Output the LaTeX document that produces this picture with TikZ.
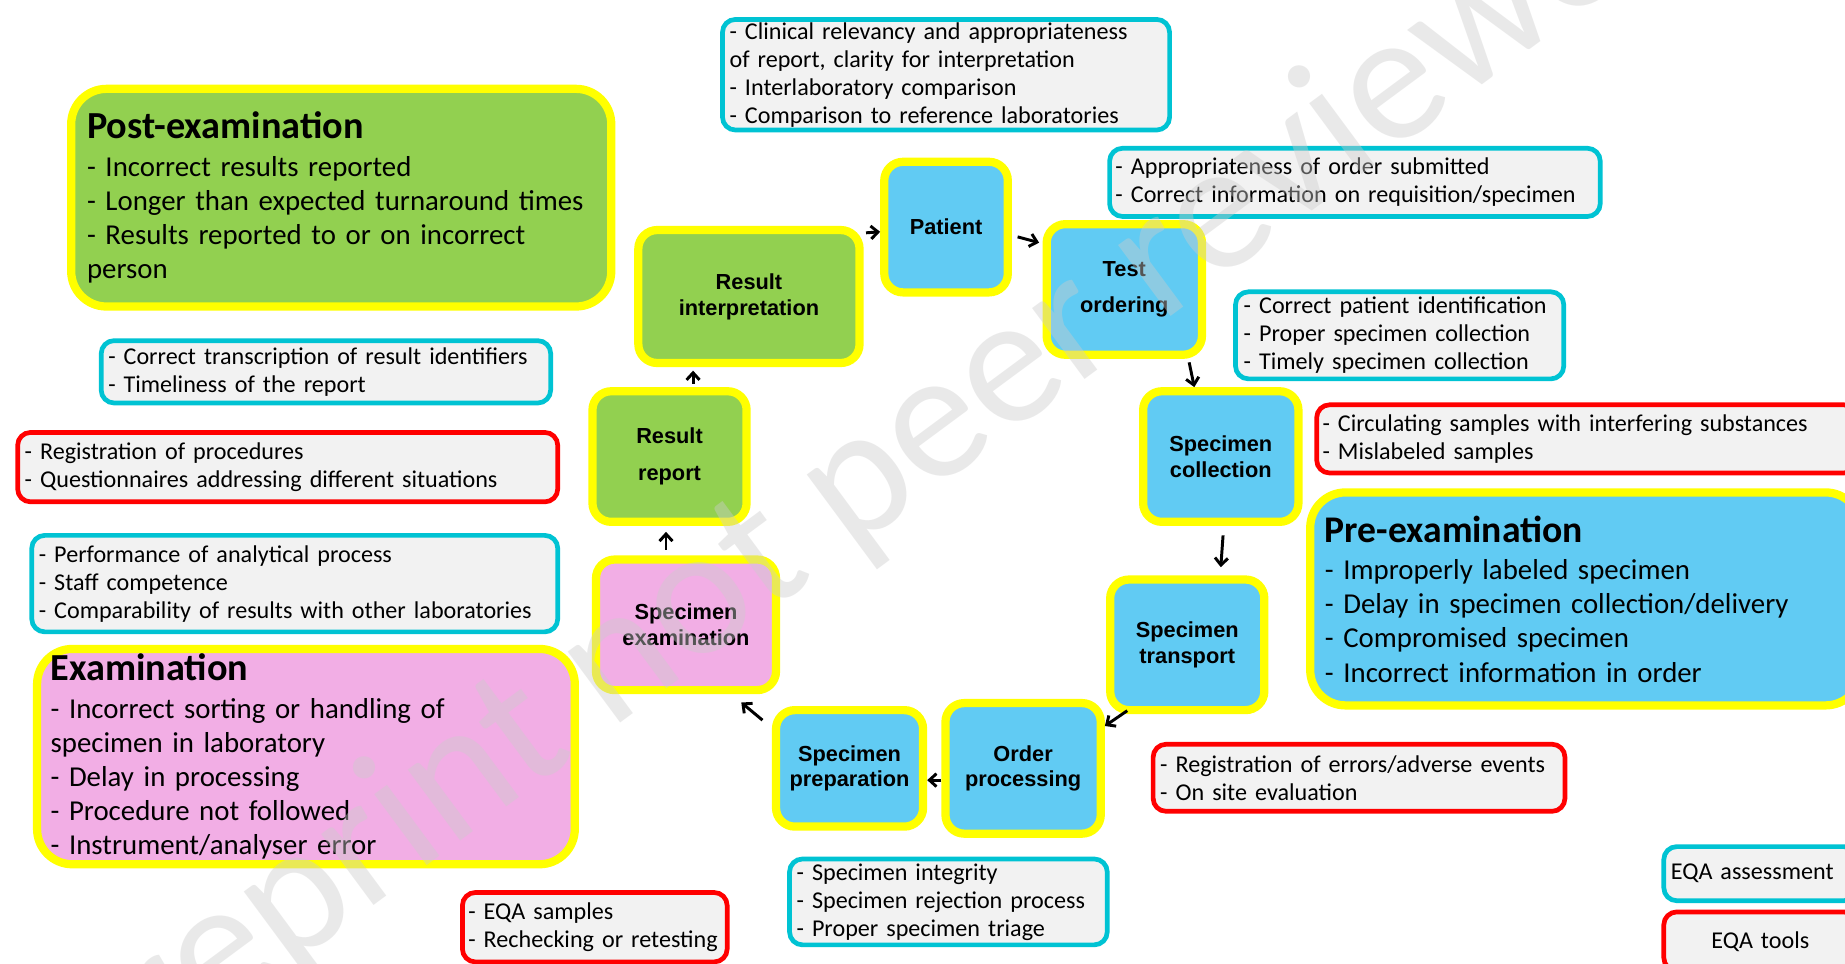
\documentclass[tikz,border=0pt]{standalone}
\usepackage{fontspec}
\setmainfont{Carlito}
\newfontfamily\procfamily{Liberation Sans}
\usetikzlibrary{arrows.meta,calc}
\definecolor{ylw}{HTML}{FFFF00}
\definecolor{grn}{HTML}{92D050}
\definecolor{blu}{HTML}{61CBF3}
\definecolor{pnk}{HTML}{F2AEE5}
\definecolor{cyn}{HTML}{00C3D3}
\definecolor{rd}{HTML}{FF0000}
\definecolor{lgr}{HTML}{F2F2F2}
\begin{document}
\begin{tikzpicture}[x=1pt,y=-1pt,
  proc/.style={draw=ylw,line width=7pt,rounded corners=16pt,align=center,inner sep=0pt,
    font=\procfamily\bfseries\fontsize{18.5}{22}\selectfont},
  info/.style={fill=lgr,line width=4pt,rounded corners=11pt,align=left,inner ysep=0pt,
    font=\fontsize{20.5}{23.8}\selectfont},
  cbox/.style={info,draw=cyn},
  rbox/.style={info,draw=rd},
  big/.style={draw=ylw,line width=7pt,rounded corners=30pt,align=left,inner ysep=0pt,
    font=\fontsize{24.5}{29}\selectfont},
  arr/.style={-{Straight Barb[length=6pt,width=11pt]},line width=2.5pt},
]
\useasboundingbox (0,0) rectangle (1568,819);
\fill[white] (0,0) rectangle (1568,819);

% big category boxes
\node[big,fill=grn,minimum width=459,minimum height=185,inner xsep=13.5pt,text width=432pt] (bpost) at (290,168)
 {{\bfseries\fontsize{32.5}{34}\selectfont Post-examination}\\[3pt]
  - Incorrect results reported\\
  - Longer than expected turnaround times\\
  - Results reported to or on incorrect\\
  person};
\node[big,fill=blu,minimum width=468,minimum height=181,inner xsep=12.5pt,text width=443pt] (bpre) at (1347.5,509)
 {{\bfseries\fontsize{32}{34}\selectfont Pre-examination}\\[3pt]
  - Improperly labeled specimen\\
  - Delay in specimen collection/delivery\\
  - Compromised specimen\\
  - Incorrect information in order};
\node[big,fill=pnk,minimum width=457,minimum height=183,inner xsep=11.5pt,text width=434pt] (bexam) at (260,643)
 {{\bfseries\fontsize{32.5}{34}\selectfont Examination}\\[3pt]
  - Incorrect sorting or handling of\\
  specimen in laboratory\\
  - Delay in processing\\
  - Procedure not followed\\
  - Instrument/analyser error};

% info boxes
\node[cbox,minimum height=94,inner xsep=6pt,text width=368pt] (i1) at (804,63.5)
 {- Clinical relevancy and appropriateness\\ of report, clarity for interpretation\\ - Interlaboratory comparison\\ - Comparison to reference laboratories};
\node[cbox,minimum height=58,inner xsep=5pt,text width=407pt] (i2) at (1151.5,155)
 {- Appropriateness of order submitted\\ - Correct information on requisition/specimen};
\node[cbox,minimum height=74,inner xsep=7pt,text width=265pt] (i3) at (1189.5,285)
 {- Correct patient identification\\ - Proper specimen collection\\ - Timely specimen collection};
\node[rbox,minimum height=58,inner xsep=5pt,text width=449pt] (i4) at (1348.5,373)
 {- Circulating samples with interfering substances\\ - Mislabeled samples};
\node[rbox,minimum height=57,inner xsep=6pt,text width=338pt] (i5) at (1155,661)
 {- Registration of errors/adverse events\\ - On site evaluation};
\node[cbox,minimum height=46,inner xsep=6pt,text width=152pt] (i6) at (1496,742.5)
 {EQA assessment};
\node[rbox,minimum height=50,inner xsep=6pt,text width=152pt,align=center] (i7) at (1496,800)
 {EQA tools};
\node[cbox,minimum height=73,inner xsep=6pt,text width=258pt] (i8) at (806,766.5)
 {- Specimen integrity\\ - Specimen rejection process\\ - Proper specimen triage};
\node[rbox,minimum height=59,inner xsep=5pt,text width=215pt] (i9) at (505.5,788)
 {- EQA samples\\ - Rechecking or retesting};
\node[cbox,minimum height=82,inner xsep=6pt,text width=435pt] (i10) at (250.5,496)
 {- Performance of analytical process\\ - Staff competence\\ - Comparability of results with other laboratories};
\node[rbox,minimum height=59,inner xsep=6pt,text width=447pt] (i11) at (244.5,397)
 {- Registration of procedures\\ - Questionnaires addressing different situations};
\node[cbox,minimum height=53,inner xsep=6pt,text width=370pt] (i12) at (277,316)
 {- Correct transcription of result identifiers\\ - Timeliness of the report};

% process nodes
\node[proc,fill=blu,minimum width=105,minimum height=111] (pat) at (804,193) {Patient};
\node[proc,fill=blu,minimum width=132,minimum height=111] (test) at (955.5,246) {Test\\[8pt]ordering};
\node[proc,fill=blu,minimum width=132,minimum height=111] (coll) at (1037.5,388) {Specimen\\collection};
\node[proc,fill=blu,minimum width=131,minimum height=111] (trans) at (1009,548) {Specimen\\transport};
\node[proc,fill=blu,minimum width=132,minimum height=111] (order) at (869.5,653) {Order\\processing};
\node[proc,fill=blu,minimum width=125,minimum height=99] (prep) at (722,653) {Specimen\\preparation};
\node[proc,fill=pnk,minimum width=153,minimum height=111] (exam) at (583,531) {Specimen\\examination};
\node[proc,fill=grn,minimum width=131,minimum height=111] (report) at (569,388) {Result\\[9pt]report};
\node[proc,fill=grn,minimum width=188,minimum height=113] (interp) at (636.5,252) {Result\\interpretation};

% connectors
\draw[arr,shorten <=2pt] (interp.east |- 0,198) -- (pat.west |- 0,197);
\draw[arr,shorten <=5pt,shorten >=3pt] (pat.east |- 0,200) -- (test.west |- 0,207);
\draw[arr,shorten <=3pt] (test.south -| 1010,0) -- (coll.north -| 1015,0);
\draw[arr,shorten <=8pt,shorten >=7pt] (coll.south -| 1040,0) -- (trans.north -| 1037,0);
\draw[arr] ($(trans.south west)+(18,-3)$) -- (order.east |- 0,617);
\draw[arr] (order.west |- 0,663) -- (prep.east |- 0,663);
\draw[arr] ($(prep.north west)+(-8,12)$) -- ($(exam.south east)+(-33,7)$);
\draw[arr,shorten <=5pt,shorten >=5pt] (exam.north -| 566,0) -- (report.south -| 566,0);
\draw[arr,shorten <=3pt,shorten >=3pt] (report.north -| 589,0) -- (interp.south -| 589,0);

% watermark
\node[rotate=36.5,text=black!20,text opacity=0.42,font=\fontsize{157}{157}\selectfont] (wm) at (740,405) {preprint not peer reviewed};
\end{tikzpicture}
\end{document}
